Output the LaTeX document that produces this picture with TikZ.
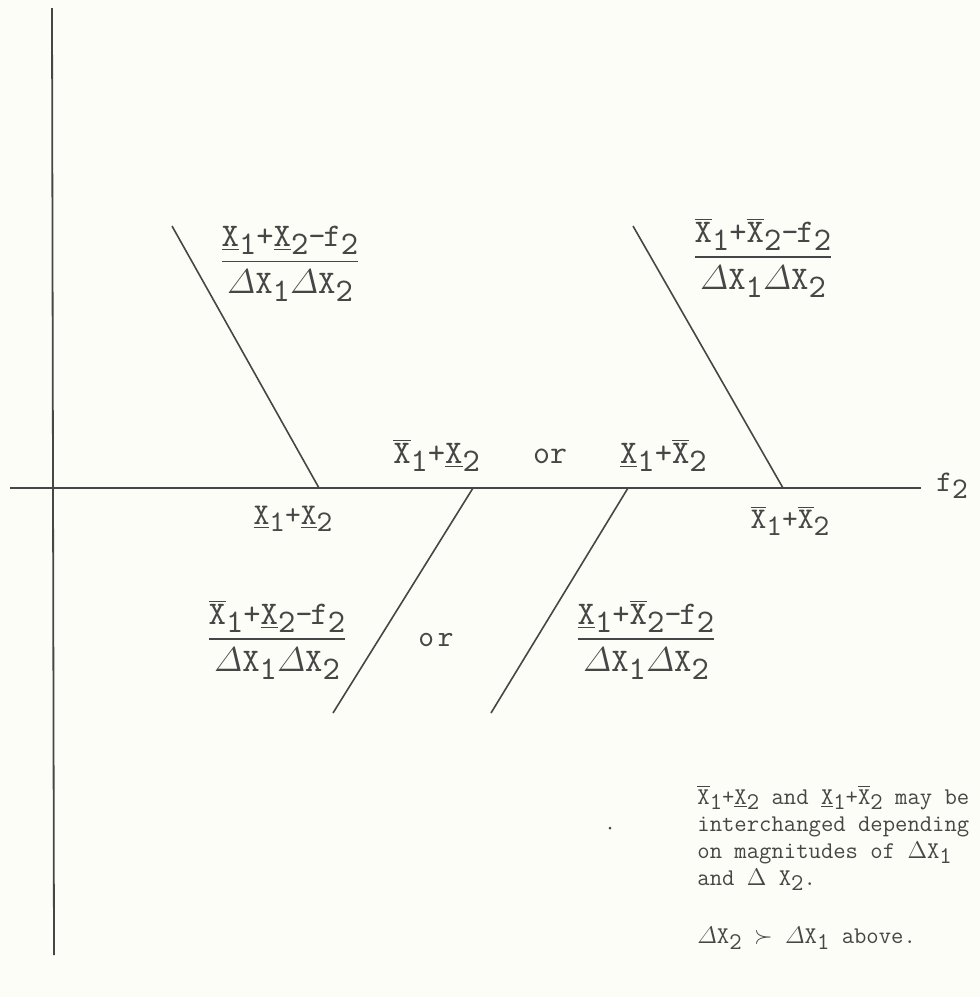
\documentclass[tikz,border=0pt]{standalone}
\usepackage{fontspec}
\usetikzlibrary{positioning}
\newfontfamily\formfont{lmmono10-regular}[Extension=.otf, LetterSpace=12]
\newfontfamily\fracfont{lmmono10-regular}[Extension=.otf, LetterSpace=28]
\definecolor{paper}{RGB}{253,253,247}
\definecolor{ink}{RGB}{70,70,70}
% bound variables: X with bar below (lower) or above (upper)
\newcommand{\lsub}[1]{\raisebox{-.55ex}{#1}}
\newcommand{\lox}[1]{\underline{X}\lsub{#1}}
\newcommand{\hix}[1]{$\overline{\mbox{X}}$\lsub{#1}}
\newcommand{\dX}[1]{$\mathnormal{\Delta}$X\lsub{#1}}
\newcommand{\minusf}{-\kern-1pt f\lsub2}
\newcommand{\frc}[2]{$\displaystyle{\mbox{#1}\above 0.9pt\mbox{#2}}$}
\tikzset{
    axisline/.style={draw=ink, line width=0.9pt},
    slantline/.style={draw=ink, line width=0.8pt},
    tw/.style={font=\fontsize{12}{13.5}\selectfont\ttfamily, text=ink, inner sep=1pt},
    form/.style={font=\fontsize{15}{17}\selectfont\formfont, text=ink, inner sep=1pt},
    fracform/.style={font=\fontsize{16.5}{18}\selectfont\fracfont, text=ink, inner sep=1pt}
}

\begin{document}
\begin{tikzpicture}[x=0.5pt, y=-0.5pt]
\fill[paper] (0,0) rectangle (980,997);
\useasboundingbox (0,0) rectangle (980,997);

% axes
\coordinate (ytop) at (52,8);
\coordinate (ybot) at (54,955);
\coordinate (xleft) at (10,488);
\coordinate (xright) at (921,488);
\draw[axisline] (ytop) -- (ybot);
\draw[axisline] (xleft) -- (xright);
\node[form, anchor=west] (ftwo) at (934,486) {f\lsub{2}};

% slanted lines
\coordinate (tlA) at (172,226);
\coordinate (tlB) at (319,488);
\coordinate (trA) at (633,226);
\coordinate (trB) at (783,488);
\coordinate (blA) at (473,488);
\coordinate (blB) at (333,713);
\coordinate (brA) at (628,488);
\coordinate (brB) at (491,713);
\draw[slantline] (tlA) -- (tlB);
\draw[slantline] (trA) -- (trB);
\draw[slantline] (blA) -- (blB);
\draw[slantline] (brA) -- (brB);

% labels on the f2 axis
\node[form] (lolo) at (293,519) {\lox1+\lox2};
\node[form] (hihi) at (790,521) {\hix1+\hix2};
\node[fracform] (mixed) at (550,455)
    {\hix1+\lox2\ \ {\ttfamily or}\ \ \lox1+\hix2};

% fractions
\node[fracform] (fracTL) at (290,264) {\frc{\lox1+\lox2\minusf}{\dX1\dX2}};
\node[fracform] (fracTR) at (763,258) {\frc{\hix1+\hix2\minusf}{\dX1\dX2}};
\node[fracform] (fracBL) at (277,640) {\frc{\hix1+\lox2\minusf}{\dX1\dX2}};
\node[form] (orword) at (436,640) {or};
\node[fracform] (fracBR) at (646,640) {\frc{\lox1+\hix2\minusf}{\dX1\dX2}};

% note
\node[tw, anchor=north west, align=left] (note) at (695,783)
    {\hix1+\lox2 and \lox1+\hix2 may be\\
     interchanged depending\\
     on magnitudes of $\Delta$X\lsub1\\
     and $\Delta$ X\lsub2.};
\node[tw, anchor=west] (cond) at (695,938)
    {$\mathnormal{\Delta}$X\lsub2 $\succ$ $\mathnormal{\Delta}$X\lsub1 above.};
\fill[ink] (610,828) circle (1.5);
\end{tikzpicture}
\end{document}
